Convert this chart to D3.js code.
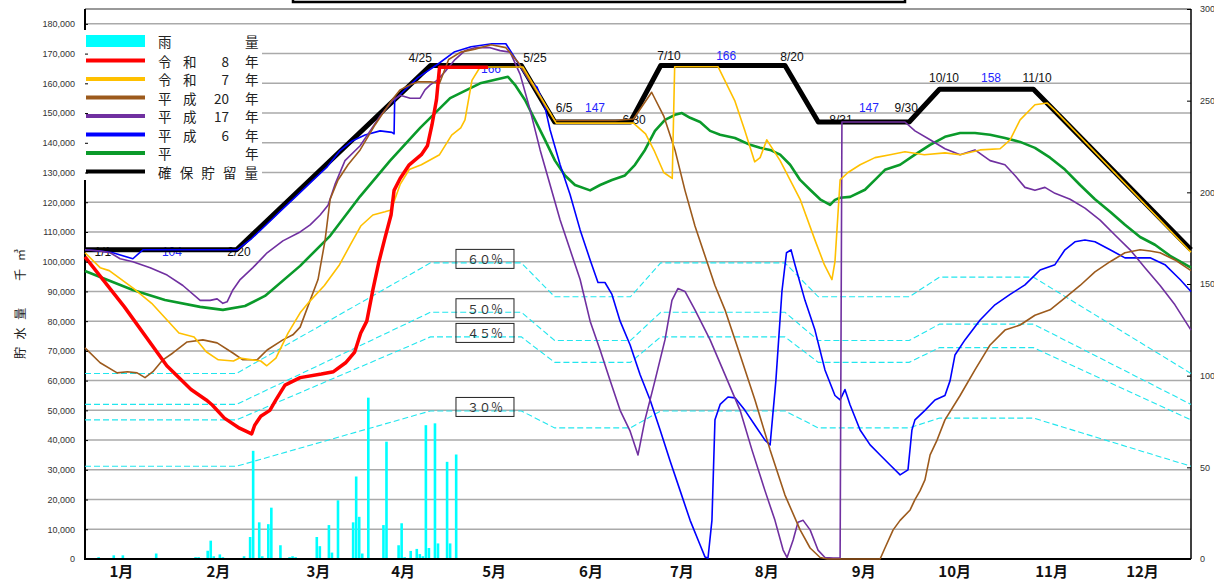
<!DOCTYPE html>
<html>
<head>
<meta charset="utf-8" />
<title>貯水量</title>
<script src="https://cdn.jsdelivr.net/npm/d3@7"></script>
<style>
html, body { margin: 0; background: #fff; }
svg { display: block; font-family: "Liberation Sans", Arial, sans-serif; }
.jp { font-family: "Noto Sans CJK JP", sans-serif; }
</style>
</head>
<body>
<svg id="chart" width="1214" height="580"></svg>
<script>
// day = days since 1/1, values in 千m3 / 1000
var guarantee = [[0,104],[50,104],[114,166],[144,166],[155,147],[180,147],[190,166],[231,166],[242,147],[272,147],[282,158],[313,158],[365,104]];

var red = [[0,101.6],[13,84.8],[27,65],[35,57],[40,53.5],[42,51.8],[46,47.4],[51,44],[55,42.1],[56,45],[58,48],[61,50],[63,53.5],[66,58.5],[71,61],[78,62.2],[82,63],[86,66],[89,69.6],[91,76],[93,80],[95,90.5],[97,100],[99,108],[101,115.7],[102,124],[104,128],[107,132.6],[111,136],[113,139],[114.5,146],[116,154.5],[117,165.4],[133,165.4]];

var yellow = [[0,103],[5,98],[8,97],[16,91],[22,86],[31,76],[36,74.7],[40,69.7],[44,67],[49,66.6],[51,67.6],[58,66.6],[60,65],[63,67.6],[67,76],[71,82.8],[74,86.5],[79,92],[84,99],[87.5,105.6],[91,112],[95,115.7],[99,116.8],[101,117.4],[104,126],[107,131],[111,132.6],[117,136],[121,142.6],[124,145],[125.4,147.7],[127.7,161],[130.4,165.5],[144.5,165.5],[155.5,146.6],[181,146.6],[185,143],[188,137],[191,130],[193.8,128],[194.6,165.6],[208.9,165.6],[214.5,154],[217.8,144],[221,133.6],[222.8,135],[225,141],[229.4,134],[236,121],[241,107],[244,99],[246.5,94],[247.5,100],[249.2,127.5],[251.8,130],[255.8,132.6],[260.7,135],[265.7,136],[270.6,137],[277,136],[283.8,136.6],[288.8,136],[295.4,137.6],[302,138],[305.3,141],[308.6,147.7],[313.5,152.8],[317.5,153.4],[320,151],[365,103.2]];

var brown = [[0,71],[5,66],[10.6,62.6],[14,63],[17.2,62.6],[19.8,61],[22.4,63],[25.7,67],[29,69.3],[33.7,73],[38.9,73.7],[43.6,72.7],[48.8,69.3],[52.1,67],[56.8,67],[60.1,70.3],[65.3,73.7],[68.6,75.4],[71,78],[74.3,87],[76.9,94],[79.2,107],[80.9,121],[83.5,127.5],[86.8,132.6],[90.8,137.6],[95.7,146],[99,151],[101.3,154.4],[104,157.8],[107.3,159.5],[110,160.5],[114,160.5],[117,160],[120,168],[124,170.5],[128.7,171.5],[134,173],[138.9,172],[143,167],[155,147.5],[175,147.5],[181,148],[187,157],[191,149],[194.7,137.6],[198,124],[201.3,112],[204.6,102],[207.9,92],[211.2,83.8],[216.2,68.6],[221.1,53.5],[226.1,36.7],[231,21.5],[236,9.8],[239.3,3.7],[242.6,0.5],[245,0],[262.4,0],[264,3.7],[266.7,9.8],[269,13],[272.3,16.5],[273.9,20],[275.6,23],[277.2,26.6],[278.9,35],[281.2,40],[283.8,46.8],[288.8,55],[293.7,63.6],[298.7,72],[303.6,77],[308.6,78.7],[313.5,82],[318.5,83.8],[323.4,87.8],[328.4,92],[333.3,96.6],[338.3,100],[343.2,103],[348.2,104],[351.5,103.6],[354.8,103],[359.7,100.6],[365,97]];

var purple = [[0,104],[5,103.6],[8.3,103],[11.6,101],[15.8,100],[21.5,98],[27.1,95.5],[32.3,92],[38,87],[41.3,87],[43.6,87.5],[45.5,86],[46.9,86.5],[48.8,90.5],[51.2,94],[55.4,98],[60.1,103],[65.3,107],[71,110],[74.3,112.4],[77.6,115.7],[80.2,119],[82.5,126],[85.8,134],[90.8,139],[94.1,144],[97.4,149],[101.7,154.4],[104,156],[107.3,155],[110.6,155],[112.2,157.8],[113.9,159.5],[116.2,161],[118.8,163.9],[122.1,168],[125.4,171],[128.7,172],[133.7,172],[137,171],[140.3,170.5],[143.6,163],[146.9,151],[150.2,137.6],[153.5,125.8],[156.8,114],[160.1,104],[163.4,94],[166.7,80],[170,70.3],[173.3,60],[176.6,50],[179.9,43],[182.5,35],[184.8,46.8],[188.1,60],[191.4,73.7],[193.7,87],[195.7,91],[198,90],[201.3,83.8],[206.3,73.7],[211.2,62],[216.2,50],[220.1,36.7],[224.4,23],[227.7,13],[230.4,3],[231.7,0.5],[233.7,6.4],[235.3,12.4],[237,13],[239.3,9.8],[241.9,3],[244.2,0.5],[246.9,0.3],[249.2,0.3],[249.8,147],[270.6,147],[273.9,144],[278.9,141],[283.8,138],[288.8,136],[293.7,137.6],[298.7,134],[303.6,132.6],[306.9,129],[310.2,125],[313.5,124],[316.8,125],[320.1,123],[325.1,121],[330,118],[335,114],[339.9,109],[344.9,104],[349.8,98],[354.8,92],[359.7,85.5],[365,77]];

var blue = [[0,104],[5,103.6],[9.2,103],[15.8,101],[19.1,104],[50.2,104],[55,107.8],[60,112.6],[65,117.5],[70,122.3],[75,127.2],[80,132],[84.2,137.4],[88,140.5],[92.4,142.6],[97.4,144],[101.3,143.5],[102,143],[102.2,154.4],[105.3,157.5],[110,162],[116.5,166.5],[121.8,170.5],[127.4,172.3],[134.3,173.3],[138.9,173.3],[142.2,168],[146.5,161],[149.2,158.7],[151.8,152],[153.5,144.3],[156.8,132.6],[160.1,122.5],[163.4,110.7],[166.7,100.6],[169.3,93],[171.6,93],[173.9,89],[176.6,80],[179.9,72],[183.2,62],[186.5,53.5],[189.8,43.4],[193.1,33],[196.4,23],[199.7,13],[203,4.7],[204.6,0.7],[205.6,0.3],[206.9,13],[207.9,46.8],[209.6,52],[212.2,54.5],[214.5,54.2],[217.8,50],[221.1,45],[224.4,40],[226.1,38.4],[228,60],[230,90],[231.5,103],[233,104],[234.3,99],[237.6,87],[240.9,77],[244.2,63.6],[247.5,55],[249.2,53.5],[250.8,57],[252.5,51.8],[255.8,43.4],[259.1,38.4],[262.4,35],[265.7,31.6],[269,28.3],[271.6,30],[272.9,43.4],[273.9,46.8],[277.2,50],[280.5,53.5],[283.8,55],[285.5,60],[287.1,68.6],[290.4,73.7],[295.4,80.4],[300.3,85.5],[305.3,89],[310.2,92.2],[315.2,97.2],[320.1,99],[323.4,104],[326.7,106.7],[330,107.3],[333.3,106.7],[338.3,104],[343.2,101.3],[351.5,101.3],[356.4,99],[361.4,94],[365,90]];

var green = [[0,96.9],[15.8,90.5],[26.4,87.1],[38,84.8],[45.5,83.8],[52.8,85.1],[59.4,88.5],[71,98.6],[80.9,108.7],[90.8,122],[100.7,134],[110.6,145],[120.5,155],[130.4,160],[139.6,162.2],[141.9,159.5],[145.2,154.4],[148.5,147.7],[151.8,141],[155.1,134],[158.4,129],[161.7,125.8],[166.7,124],[170,125.8],[173.9,127.5],[178.2,129],[181.5,132.6],[184.8,137.6],[188.1,144],[191.4,147.7],[194.7,149.4],[197,150],[199.7,148.4],[203,147],[206.3,144],[209.6,142.7],[214.5,141.6],[219.5,139.3],[222.8,138.3],[226.1,137.6],[229.4,136],[232.7,132.6],[236,127.5],[239.3,124.2],[242.6,121],[245.9,119.1],[247.5,120.8],[249.2,121.5],[252.5,121.8],[257.4,124.2],[260.7,127.5],[264,130.9],[269,132.6],[273.9,136],[278.9,139.3],[283.8,142],[288.8,143.3],[293.7,143.3],[298.7,142.7],[303.6,141.6],[308.6,140.3],[313.5,138.3],[318.5,135],[323.4,131],[328.4,125.8],[333.3,121],[338.3,116.8],[343.2,112.4],[348.2,108.3],[353.1,105.7],[358.1,102],[365,98]];

// daily rain, mm (right axis)
var rainDay = [1,2,3,4,7,9,10,12,14,23,24,33,35,36,37,38,40,41,42,44,45,52,54,55,57,58,60,61,64,66,67,68,69,70,71,72,73,76,77,80,81,83,84,88,89,90,91,93,94,96,98,99,102,103,104,105,106,107,109,110,111,112,113,114,115,116,118,119,120,122];
var rainMM  = [0.5,0.5,0.5,1,0.5,2,0.5,2,0.5,3,0.5,0.5,0.5,1,1,0.5,4.5,10,1.5,2.5,1,1.5,12,59,20,1.5,19,28,7.5,0.5,1,1.5,1,0.5,0.5,0.5,0.5,12,7,18.5,3.5,32,0.5,20,45,23,3,88,0.5,0.5,18.5,64,0.5,7.5,19.5,1,0.5,4.4,5.5,2.7,1.5,73,6,0.5,74,8.5,0.5,53,8.5,57];

var pctLevels = [0.6, 0.5, 0.45, 0.3];
var pctText = ["６０％", "５０％", "４５％", "３０％"];

var monthLabels = ["1月","2月","3月","4月","5月","6月","7月","8月","9月","10月","11月","12月"];
var monthLabelDay = [12,44,77,105,135,167,197,225,257,287,319,349];

var leftTicks = d3.range(0, 181, 10);
var rightTicks = [0, 50, 100, 150, 200, 250, 300];

// labels along the guarantee line: [day, value, text, isLevel]
var lineLabels = [[5.9,103.3,"1/1",0],[28.7,103.3,"104",1],[50.8,103.3,"2/20",0],[110.6,168.6,"4/25",0],[134,164.9,"166",1],[148.5,168.6,"5/25",0],[158.1,151.7,"6/5",0],[168.3,151.7,"147",1],[181.2,147.7,"6/30",0],[192.7,169.2,"7/10",0],[211.6,169.2,"166",1],[233.3,168.9,"8/20",0],[249.5,147.7,"8/31",0],[258.7,151.7,"147",1],[271,151.7,"9/30",0],[283.5,161.8,"10/10",0],[299,161.8,"158",1],[314.2,161.8,"11/10",0]];

var series = [
  {name: "令和8年", data: red, color: "#ff0000", width: 3.5},
  {name: "令和7年", data: yellow, color: "#ffc000", width: 1.6},
  {name: "平成20年", data: brown, color: "#9c5a1c", width: 1.6},
  {name: "平成17年", data: purple, color: "#7030a0", width: 1.6},
  {name: "平成6年", data: blue, color: "#0000ff", width: 1.6},
  {name: "平年", data: green, color: "#0a9a2a", width: 2.6},
  {name: "確保貯留量", data: guarantee, color: "#000000", width: 5}
];

var svg = d3.select("#chart");
var x = d3.scaleLinear().domain([0, 365]).range([85, 1191]);
var y = d3.scaleLinear().domain([0, 185]).range([559, 9]);
var yR = d3.scaleLinear().domain([0, 300]).range([559, 9]);

svg.append("rect").attr("width", 1214).attr("height", 580).attr("fill", "#fff");

// grid
svg.append("g").selectAll("line").data(leftTicks.filter(function(d){ return d > 0; }))
  .enter().append("line")
  .attr("x1", 85).attr("x2", 1191)
  .attr("y1", function(d){ return y(d); }).attr("y2", function(d){ return y(d); })
  .attr("stroke", "#aaaaaa").attr("stroke-width", 1.5);

// frame
svg.append("line").attr("x1", 85).attr("x2", 1191).attr("y1", 9).attr("y2", 9).attr("stroke", "#777").attr("stroke-width", 1.5);
svg.append("line").attr("x1", 1191).attr("x2", 1191).attr("y1", 9).attr("y2", 559).attr("stroke", "#000").attr("stroke-width", 1.5);
svg.append("line").attr("x1", 85).attr("x2", 85).attr("y1", 9).attr("y2", 560).attr("stroke", "#000").attr("stroke-width", 2);

// rain bars
svg.append("g").selectAll("rect").data(rainDay)
  .enter().append("rect")
  .attr("x", function(d){ return x(d) + 0.2; })
  .attr("width", 2.6)
  .attr("y", function(d, i){ return yR(rainMM[i]); })
  .attr("height", function(d, i){ return 559 - yR(rainMM[i]); })
  .attr("fill", "#00ffff");

svg.append("line").attr("x1", 84).attr("x2", 1191).attr("y1", 559).attr("y2", 559).attr("stroke", "#000").attr("stroke-width", 2);

var line = d3.line().x(function(d){ return x(d[0]); }).y(function(d){ return y(d[1]); });

// percentage lines
pctLevels.forEach(function(p, i){
  svg.append("path")
    .attr("d", line(guarantee.map(function(d){ return [d[0], d[1] * p]; })))
    .attr("fill", "none").attr("stroke", "#22e6ee").attr("stroke-width", 1.1)
    .attr("stroke-dasharray", "6,3");
  var cy = y(166 * p) - 4;
  svg.append("rect").attr("x", x(132) - 29).attr("y", cy - 9.5).attr("width", 58).attr("height", 19)
    .attr("fill", "none").attr("stroke", "#222").attr("stroke-width", 1);
  svg.append("text").attr("class", "jp").attr("x", x(132)).attr("y", cy)
    .attr("text-anchor", "middle").attr("dominant-baseline", "central")
    .attr("font-size", 12).attr("fill", "#333").text(pctText[i]);
});

// labels along guarantee line (under the lines)
svg.append("g").selectAll("text").data(lineLabels)
  .enter().append("text")
  .attr("x", function(d){ return x(d[0]); })
  .attr("y", function(d){ return y(d[1]); })
  .attr("text-anchor", "middle").attr("dominant-baseline", "central")
  .attr("font-size", 12)
  .attr("fill", function(d){ return d[3] ? "#2424ff" : "#111"; })
  .text(function(d){ return d[2]; });

// lines: black first, red last
[6, 5, 4, 3, 2, 1, 0].forEach(function(i){
  var s = series[i];
  svg.append("path").attr("d", line(s.data))
    .attr("fill", "none").attr("stroke", s.color).attr("stroke-width", s.width)
    .attr("stroke-linejoin", "round");
});

// legend
var lg = svg.append("g");
lg.append("rect").attr("x", 82).attr("y", 30).attr("width", 180).attr("height", 150).attr("fill", "#fff");
lg.append("rect").attr("x", 86).attr("y", 35).attr("width", 59).attr("height", 12).attr("fill", "#00ffff");

function legendText(name, ly) {
  var t = function(str, tx, anchor) {
    lg.append("text").attr("class", "jp").attr("x", tx).attr("y", ly)
      .attr("dominant-baseline", "central").attr("text-anchor", anchor || "start")
      .attr("font-size", 13.5).attr("fill", "#222").text(str);
  };
  var m = name.match(/^(\D)(\D)(\d+)(\D)$/);
  if (m) {
    t(m[1], 158); t(m[2], 183); t(m[3], 229, "end"); t(m[4], 245);
  } else if (name.length === 2) {
    t(name[0], 158); t(name[1], 245);
  } else {
    lg.append("text").attr("class", "jp").attr("x", 158).attr("y", ly)
      .attr("dominant-baseline", "central").attr("font-size", 13.5).attr("fill", "#222")
      .attr("textLength", 100).attr("lengthAdjust", "spacing").text(name);
  }
}
legendText("雨量", 41);
series.forEach(function(s, i){
  var ly = 60.5 + i * 18.5;
  lg.append("line").attr("x1", 86).attr("x2", 145).attr("y1", ly).attr("y2", ly)
    .attr("stroke", s.color).attr("stroke-width", 4);
  legendText(s.name, ly);
});

// axes
var ax = svg.append("g").attr("transform", "translate(85,0)")
  .call(d3.axisLeft(y).tickValues(leftTicks).tickSize(-3).tickPadding(10)
    .tickFormat(function(d){ return d3.format(",")(d * 1000); }));
ax.select(".domain").remove();
ax.selectAll("text").attr("font-size", 9).attr("fill", "#333").attr("font-family", "Liberation Sans, Arial");
ax.selectAll("line").attr("stroke", "#000");

var axr = svg.append("g").attr("transform", "translate(1191,0)")
  .call(d3.axisRight(yR).tickValues(rightTicks).tickSize(-4).tickPadding(9));
axr.select(".domain").remove();
axr.selectAll("text").attr("font-size", 9).attr("fill", "#333").attr("font-family", "Liberation Sans, Arial");

svg.append("g").selectAll("text").data(monthLabels)
  .enter().append("text").attr("class", "jp")
  .attr("x", function(d, i){ return x(monthLabelDay[i]); })
  .attr("y", 577).attr("text-anchor", "middle")
  .attr("font-size", 15).attr("font-weight", "bold").attr("fill", "#111")
  .text(function(d){ return d; });

svg.append("text").attr("class", "jp")
  .attr("transform", "translate(25,359) rotate(-90)")
  .attr("font-size", 12).attr("fill", "#222")
  .attr("textLength", 110).attr("lengthAdjust", "spacing")
  .text("貯水量　千㎥");

// title box edge at top
svg.append("rect").attr("x", 293).attr("y", -12).attr("width", 612).attr("height", 14)
  .attr("fill", "none").attr("stroke", "#000").attr("stroke-width", 2.5);
</script>
</body>
</html>
